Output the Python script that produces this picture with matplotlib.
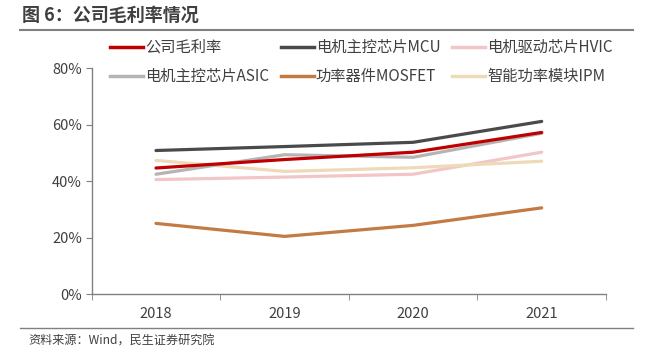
import matplotlib
matplotlib.use("Agg")
import matplotlib.pyplot as plt
from matplotlib.lines import Line2D
from matplotlib.ticker import FixedLocator, PercentFormatter

plt.rcParams['font.family'] = ['Noto Sans CJK SC', 'DejaVu Sans']

years = ['2018', '2019', '2020', '2021']
series_names = ['公司毛利率', '电机主控芯片MCU', '电机驱动芯片HVIC',
                '电机主控芯片ASIC', '功率器件MOSFET', '智能功率模块IPM']
gross_margin = [44.7, 47.7, 50.3, 57.3]
mcu = [50.9, 52.3, 53.8, 61.2]
hvic = [40.6, 41.5, 42.5, 50.3]
asic = [42.5, 49.4, 48.5, 57.0]
mosfet = [25.1, 20.5, 24.4, 30.6]
ipm = [47.4, 43.5, 44.8, 47.1]
colors = ['#C00000', '#4A4A4A', '#F2C6C6', '#B4B4B4', '#C47A43', '#EEDAB8']

values = [gross_margin, mcu, hvic, asic, mosfet, ipm]

fig = plt.figure(figsize=(6.52, 3.52), dpi=100)
ax = fig.add_axes([91.7/652, 1-294.3/352, (606-91.7)/652, (294.3-68.3)/352])

x = list(range(len(years)))
draw_order = [2, 5, 4, 1, 3, 0]
for i in draw_order:
    ax.plot(x, values[i], color=colors[i], lw=2.3, solid_capstyle='round', zorder=3)

ax.set_xlim(-0.5, len(years) - 0.5)
ax.set_ylim(0, 80)
ax.set_yticks([0, 20, 40, 60, 80])
ax.yaxis.set_major_formatter(PercentFormatter(decimals=0))
ax.set_xticks(x)
ax.set_xticklabels(years)
ax.xaxis.set_minor_locator(FixedLocator([i - 0.5 for i in range(len(years) + 1)]))
ax.tick_params(axis='x', which='major', length=0, pad=9, labelsize=10.5, labelcolor='#404040')
ax.tick_params(axis='x', which='minor', length=4, color='#808080', direction='out')
ax.tick_params(axis='y', length=4, color='#808080', pad=3, labelsize=10.5, labelcolor='#404040')
for s in ['top', 'right']:
    ax.spines[s].set_visible(False)
for s in ['left', 'bottom']:
    ax.spines[s].set_color('#808080')
    ax.spines[s].set_linewidth(1.0)

order = [0, 3, 1, 4, 2, 5]
handles = [Line2D([], [], color=colors[i], lw=2.5) for i in order]
labels = [series_names[i] for i in order]
leg = fig.legend(handles, labels, ncol=3, loc='upper left',
                 bbox_to_anchor=(110/652, 1-39/352), frameon=False,
                 fontsize=11, handlelength=2.15, handletextpad=0.15,
                 columnspacing=0.75, labelspacing=0.8, borderpad=0,
                 borderaxespad=0)
for t in leg.get_texts():
    t.set_color('#404040')

fig.text(22/652, 1-15/352, '图 6：公司毛利率情况', fontsize=13, fontweight='bold',
         color='#404040', va='center', ha='left')
fig.add_artist(Line2D([20/652, 633/652], [1-30/352, 1-30/352], color='#808080', lw=1.5))
fig.add_artist(Line2D([20/652, 633/652], [1-328/352, 1-328/352], color='#808080', lw=1.0))
fig.text(28/652, 1-341/352, '资料来源：Wind，民生证券研究院', fontsize=8.7,
         color='#404040', va='center', ha='left')

fig.savefig('out.png', dpi=100)
